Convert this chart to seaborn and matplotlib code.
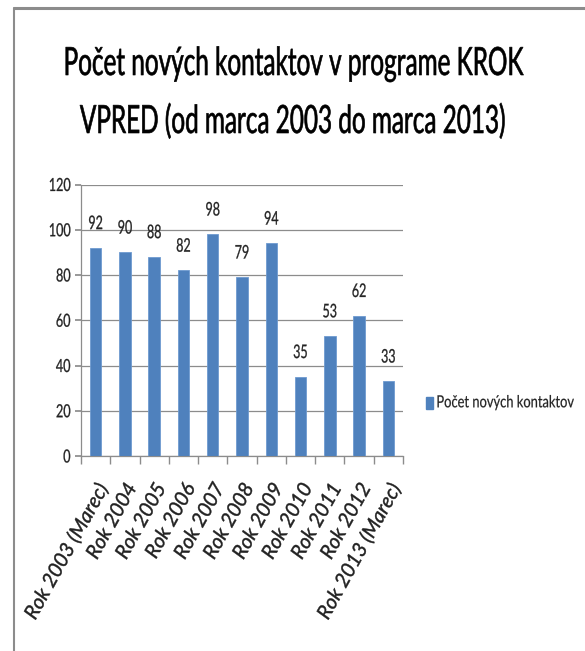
import matplotlib
matplotlib.use("Agg")
import matplotlib.pyplot as plt
import seaborn as sns
import pandas as pd
from matplotlib.lines import Line2D
from matplotlib.patches import Patch
from matplotlib.patheffects import AbstractPathEffect
from matplotlib.transforms import Affine2D
from matplotlib import font_manager

categories = ["Rok 2003 (Marec)", "Rok 2004", "Rok 2005", "Rok 2006", "Rok 2007",
              "Rok 2008", "Rok 2009", "Rok 2010", "Rok 2011", "Rok 2012",
              "Rok 2013 (Marec)"]
values = [92, 90, 88, 82, 98, 79, 94, 35, 53, 62, 33]
series_name = "Počet nových kontaktov"
title_line1 = "Počet nových kontaktov v programe KROK"
title_line2 = "VPRED (od marca 2003 do marca 2013)"
yticks = [0, 20, 40, 60, 80, 100, 120]

sns.set_theme(style="white")
FONT = ["Lato", "DejaVu Sans"]
plt.rcParams["font.family"] = FONT

df = pd.DataFrame({"cat": categories, "val": values})

fig = plt.figure(figsize=(5.85, 6.51), dpi=100)
renderer = fig.canvas.get_renderer()

# add a synthetic slant only if no true italic face of Lato is available
_it_path = font_manager.findfont(font_manager.FontProperties(family="Lato", style="italic"))
ITALIC_SKEW = 0.0 if "italic" in _it_path.lower() else 11.0


class HSqueeze(AbstractPathEffect):
    """Narrow glyphs (Calibri-like look) keeping one edge and the baseline fixed."""

    def __init__(self, sx, anchor="center", sy=1.0, stroke=0.0, skew=0.0):
        super().__init__()
        self.sx = sx
        self.sy = sy
        self.anchor = anchor
        self.stroke = stroke
        self.skew = skew

    def draw_path(self, renderer, gc, tpath, affine, rgbFace=None):
        ext = tpath.get_extents()
        if self.anchor == "center":
            x0 = (ext.x0 + ext.x1) / 2
        elif self.anchor == "right":
            x0 = ext.x1
        else:
            x0 = ext.x0
        t = (Affine2D().translate(-x0, 0).skew_deg(self.skew, 0)
             .scale(self.sx, self.sy).translate(x0, 0))
        if self.stroke > 0 and rgbFace is not None:
            gc0 = renderer.new_gc()
            gc0.copy_properties(gc)
            gc0.set_linewidth(self.stroke)
            gc0.set_foreground(rgbFace)
            renderer.draw_path(gc0, tpath, t + affine, rgbFace)
            gc0.restore()
        else:
            renderer.draw_path(gc, tpath, t + affine, rgbFace)


def natural_width(text, fs, **kw):
    t = fig.text(0, 0, text, fontsize=fs, **kw)
    w = t.get_window_extent(renderer).width
    t.remove()
    return w


def size_and_squeeze(text, want_fs, target_px, max_natural_px=None, **kw):
    w10 = natural_width(text, 10, **kw)
    fs = want_fs
    if max_natural_px is not None:
        fs = min(fs, 10 * max_natural_px / w10)
    w = w10 * fs / 10
    return fs, min(1.0, target_px / w), want_fs / fs


TITLE_FS, title_sx, title_sy = size_and_squeeze(title_line1, 28, 460, max_natural_px=566)
TICK_FS, ytick_sx, _ = size_and_squeeze("120", 13, 22)
XT_FS, xtick_sx, _ = size_and_squeeze("Rok 2013 (Marec)", 14.5, 176, style="italic")
DLAB_FS, dlab_sx, _ = size_and_squeeze("92", 13.5, 14.5)
LEG_FS, leg_sx, leg_sy = size_and_squeeze(series_name, 12, 138, max_natural_px=144)

ax = fig.add_axes([81/585, 1 - 456/651, 322/585, (456 - 184.5)/651])

sns.barplot(data=df, x="cat", y="val", color="#4F81BD", width=0.39,
            saturation=1, ax=ax, edgecolor="#6F9BD0", linewidth=0.6, zorder=3)

ax.set_ylim(0, 120)
ax.set_xlim(-0.5, len(categories) - 0.5)
ax.set_yticks(yticks)
ax.yaxis.grid(True, color="#8C8C8C", linewidth=0.9, zorder=0)
ax.set_axisbelow(True)
ax.set_xlabel("")
ax.set_ylabel("")
for s in ["top", "right"]:
    ax.spines[s].set_visible(False)
for s in ["left", "bottom"]:
    ax.spines[s].set_color("#8C8C8C")
    ax.spines[s].set_linewidth(0.9)

ax.tick_params(axis="y", which="major", length=4, color="#8C8C8C", direction="out",
               labelsize=TICK_FS, pad=3.5, left=True, labelcolor="#222222")
for tl in ax.get_yticklabels():
    tl.set_path_effects([HSqueeze(ytick_sx, "right", stroke=0.2)])

ax.set_xticks(range(len(categories)))
ax.set_xticklabels(categories, rotation=61, ha="right", rotation_mode="anchor",
                   fontsize=XT_FS, style="italic", color="#222222")
ax.tick_params(axis="x", which="major", length=0, pad=18)
for tl in ax.get_xticklabels():
    tl.set_path_effects([HSqueeze(xtick_sx, "right", stroke=0.3, skew=ITALIC_SKEW)])
ax.set_xticks([i - 0.5 for i in range(len(categories) + 1)], minor=True)
ax.tick_params(axis="x", which="minor", length=6, color="#8C8C8C", direction="out",
               bottom=True)

for i, v in enumerate(values):
    a = ax.annotate(str(v), (i, v), xytext=(0, 13.5), textcoords="offset points",
                    ha="center", va="baseline", fontsize=DLAB_FS, color="#222222")
    a.set_path_effects([HSqueeze(dlab_sx, "center", stroke=0.2)])

for txt, ybase in [(title_line1, 75), (title_line2, 133)]:
    t = fig.text(0.501, 1 - ybase/651, txt, ha="center", va="baseline",
                 fontsize=TITLE_FS, color="black")
    t.set_path_effects([HSqueeze(title_sx, "center", sy=title_sy, stroke=0.45)])

handle = Patch(facecolor="#4F81BD", edgecolor="#4F81BD")
leg = fig.legend([handle], [series_name], loc="center left",
                 bbox_to_anchor=(426/585, 1 - 403/651), frameon=False,
                 fontsize=LEG_FS, handlelength=0.42 * 12 / LEG_FS,
                 handleheight=0.8 * 12 / LEG_FS,
                 handletextpad=0.2 * 12 / LEG_FS, borderpad=0, borderaxespad=0,
                 labelcolor="#222222")
for t in leg.get_texts():
    t.set_path_effects([HSqueeze(leg_sx, "left", sy=leg_sy, stroke=0.15)])

fig.add_artist(Line2D([14/585, 14/585], [0, 1 - 7.5/651], color="#8C8C8C",
                      linewidth=1.5, transform=fig.transFigure))
fig.add_artist(Line2D([14/585, 1], [1 - 7.5/651, 1 - 7.5/651], color="#8C8C8C",
                      linewidth=2.2, transform=fig.transFigure))

fig.savefig("out.png", dpi=100, facecolor="white")
